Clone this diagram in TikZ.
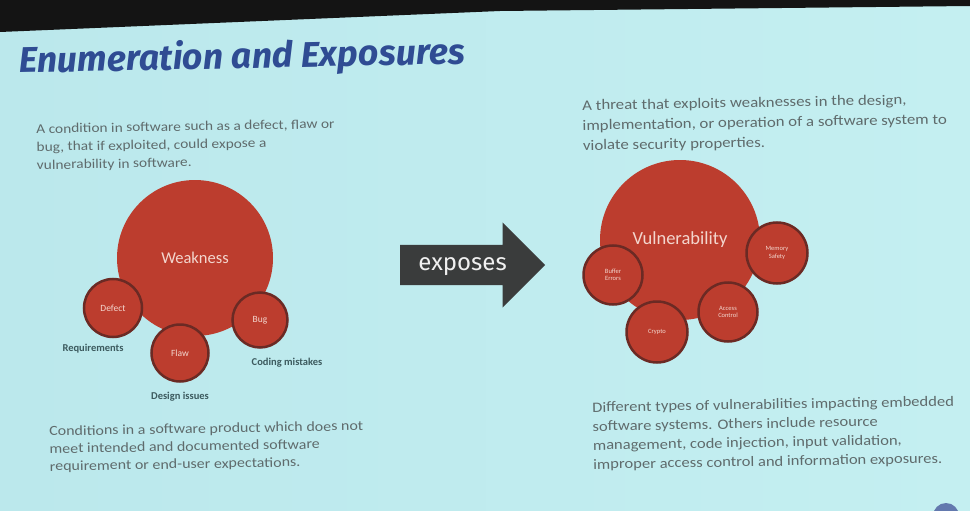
\documentclass[tikz,border=0pt]{standalone}
\usepackage{fontspec}
\setmainfont{Carlito}
\newfontfamily\corpo{Carlito}[FakeStretch=1.15]
\newfontfamily\titolofont{Fira Sans}
\usetikzlibrary{positioning,shapes.arrows}
\definecolor{sfondo}{HTML}{BBE8EC}
\definecolor{sfondochiaro}{HTML}{C4EFF1}
\definecolor{rosso}{HTML}{BC3D2E}
\definecolor{bordo}{HTML}{6B2A24}
\definecolor{rosa}{HTML}{F3D6CE}
\definecolor{grigio}{HTML}{5F6B6C}
\definecolor{scuro}{HTML}{3C5A5E}
\definecolor{blu}{HTML}{2F4C93}
\definecolor{ardesia}{HTML}{3A3C3C}
\tikzset{
  grande/.style={circle, fill=rosso, minimum size=#1, inner sep=0pt, text=rosa},
  piccolo/.style={circle, fill=rosso, draw=bordo, line width=2.5pt, minimum size=#1,
    inner sep=0pt, text=rosa, align=center, font=\fontsize{9.5}{11}\selectfont},
  minuto/.style={piccolo=#1, font=\fontsize{6.5}{7.5}\selectfont},
  etichetta/.style={inner sep=0pt, text=scuro, font=\fontsize{10.5}{12}\selectfont\bfseries},
  testo/.style={anchor=north west, align=left, inner sep=0pt, text=grigio, rotate=1}
}

\begin{document}
\begin{tikzpicture}[x=1pt, y=-1pt]
  \useasboundingbox (0,0) rectangle (970,511);
  % Sfondo della slide
  \shade[left color=sfondo, right color=sfondochiaro] (0,0) rectangle (970,511);
  \fill[black!92] (0,0) -- (970,0) -- (970,6) -- (500,11) -- (0,32) -- cycle;
  \fill[blu!75] (946,516) circle (13);
  % Titolo
  \node[anchor=base west, rotate=1.2, inner sep=0pt, text=blu,
    font=\titolofont\bfseries\itshape\fontsize{35.7}{40}\selectfont] (titolo) at (19,73)
    {Enumeration and Exposures};
  % Testi a sinistra
  \node[testo, font=\corpo\fontsize{13.4}{18}\selectfont] (defsx) at (36,124)
    {A condition in software such as a defect, flaw or\\
     bug, that if exploited, could expose a\\
     vulnerability in software.};
  \node[testo, font=\corpo\fontsize{13.9}{17.6}\selectfont] (notasx) at (49,426)
    {Conditions in a software product which does not\\
     meet intended and documented software\\
     requirement or end-user expectations.};
  % Weakness e cerchi piccoli
  \node[grande=156pt, font=\fontsize{16.5}{18}\selectfont] (weakness) at (195,258) {Weakness};
  \node[piccolo=58pt] (defect) at (113,308) {Defect};
  \node[piccolo=57pt] (flaw) at (180,353) {Flaw};
  \node[piccolo=55pt] (bug) at (260,320) {Bug};
  \node[etichetta, below=6pt of defect, xshift=-20pt] (req) {Requirements};
  \node[etichetta, below=9pt of flaw] (design) {Design issues};
  \node[etichetta, below=9pt of bug, xshift=27pt] (coding) {Coding mistakes};
  % Freccia centrale
  \node[single arrow, fill=ardesia, anchor=tail, minimum height=145pt,
    single arrow head extend=22.5pt, text height=13pt, text depth=3pt, inner ysep=12pt,
    text=white!88!gray, font=\titolofont\fontsize{24}{28}\selectfont] (espone) at (400,265)
    {exposes};
  % Testi a destra
  \node[testo, font=\corpo\fontsize{14.6}{20}\selectfont] (defdx) at (582,100)
    {A threat that exploits weaknesses in the design,\\
     implementation, or operation of a software system to\\
     violate security properties.};
  \node[testo, font=\corpo\fontsize{14.4}{19}\selectfont] (notadx) at (592,402)
    {Different types of vulnerabilities impacting embedded\\
     software systems. Others include resource\\
     management, code injection, input validation,\\
     improper access control and information exposures.};
  % Vulnerability e cerchi piccoli
  \node[grande=160pt, font=\fontsize{18.5}{20}\selectfont] (vuln) at (680,240) {Vulnerability};
  \node[minuto=59pt] (buffer) at (613,275) {Buffer\\Errors};
  \node[minuto=61pt] (crypto) at (657,332) {Crypto};
  \node[minuto=59pt] (accesso) at (728,312) {Access\\Control};
  \node[minuto=61pt] (memoria) at (777,253) {Memory\\Safety};
\end{tikzpicture}
\end{document}
